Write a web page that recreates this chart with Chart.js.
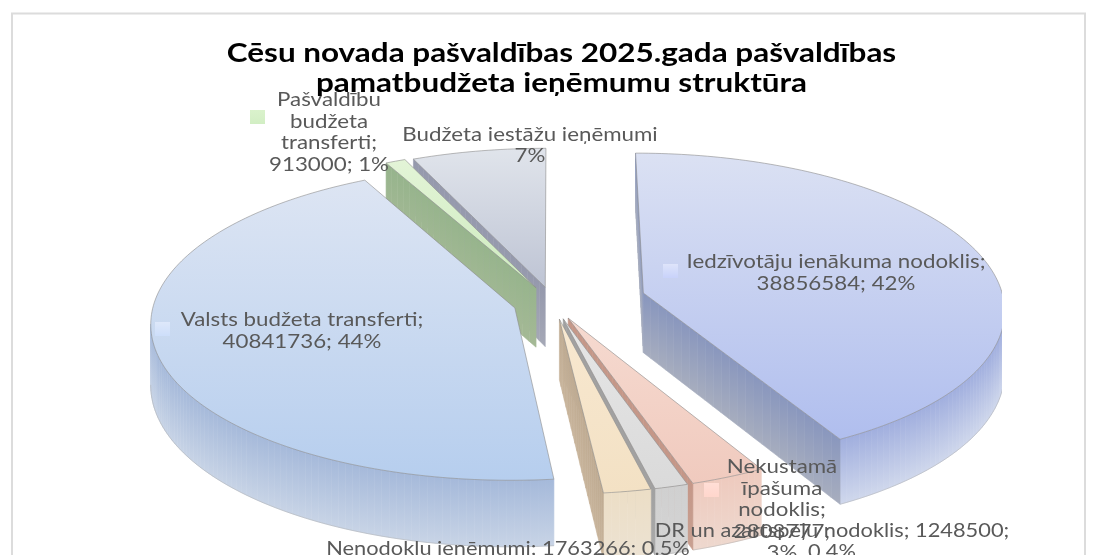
<!DOCTYPE html>
<html><head><meta charset="utf-8">
<style>html,body{margin:0;padding:0;background:#fff;overflow:hidden}canvas{display:block}</style>
<script src="https://cdn.jsdelivr.net/npm/chart.js@4"></script>
</head><body><canvas id="c" width="1097" height="555"></canvas>
<script>
const categories = ["Iedzīvotāju ienākuma nodoklis","Nekustamā īpašuma nodoklis","DR un azartspēļu nodoklis","Nenodoklu ieņēmumi","Valsts budžeta transferti","Pašvaldību budžeta transferti","Budžeta iestāžu ieņēmumi"];
const values = [38856584,2808777,1248500,1763266,40841736,913000,6100000];
const explode = [26,10.5,10.5,10.5,11,11,10.5];
const paintOrder = [6,5,4,0,1,2,3];
const faceTop = ["rgb(219,225,243)","rgb(246,218,208)","rgb(230,230,230)","rgb(248,232,208)","rgb(221,229,243)","rgb(227,244,215)","rgb(224,228,235)"];
const faceBottom = ["rgb(176,190,238)","rgb(240,202,190)","rgb(218,218,218)","rgb(243,225,196)","rgb(182,206,238)","rgb(205,235,190)","rgb(190,196,212)"];
const cutTop = ["rgb(136,150,190)","rgb(196,150,135)","rgb(160,160,160)","rgb(190,170,145)","rgb(150,175,205)","rgb(150,180,140)","rgb(148,152,172)"];
const cutBottom = ["rgb(168,174,190)","rgb(200,160,145)","rgb(170,170,170)","rgb(200,180,155)","rgb(170,190,215)","rgb(165,185,150)","rgb(165,168,182)"];
const rimTop = ["rgb(160,174,222)","rgb(238,202,190)","rgb(208,208,208)","rgb(236,222,198)","rgb(165,185,218)","rgb(190,215,175)","rgb(175,180,198)"];
const rimBottom = ["rgb(208,216,236)","rgb(238,216,206)","rgb(212,212,212)","rgb(236,226,210)","rgb(200,212,230)","rgb(205,225,190)","rgb(195,198,212)"];
const keyTop = ["rgb(222,228,250)","rgb(255,222,214)",null,null,"rgb(222,232,250)","rgb(218,242,204)",null];
const keyBottom = ["rgb(200,210,250)","rgb(255,214,204)",null,null,"rgb(205,222,250)","rgb(210,238,196)",null];
const titleLines = ["Cēsu novada pašvaldības 2025.gada pašvaldības","pamatbudžeta ieņēmumu struktūra"];
const labelLines = [
 ["Iedzīvotāju ienākuma nodoklis;","38856584; 42%"],
 ["Nekustamā","īpašuma","nodoklis;","2808777;","3%"],
 ["DR un azartspēļu nodoklis; 1248500;","0.4%"],
 ["Nenodoklu ieņēmumi; 1763266; 0.5%"],
 ["Valsts budžeta transferti;","40841736; 44%"],
 ["Pašvaldību","budžeta","transferti;","913000; 1%"],
 ["Budžeta iestāžu ieņēmumi","7%"]
];
const labelCenterX = [836,782,832,508,302,329,530];
const labelFirstY = [262,467,531,549,320,100,135];
const labelStep = [22,21.5,21,21,22,21.5,21];
const labelStretch = [1.115,1.115,1.09,1.09,1.115,1.115,1.115];
const keyX = [663,704,null,null,155,250,null];
const keyY = [264,483,null,null,322,110,null];

const VIEW = {cx:553, cy:303, rx:361, ry:155, p:0.095, h:60, clipL:147, clipR:1002, clipB:555};
const TITLE_STRETCH = 1.21, TITLE_CX = 561.5;
function project(u,v,z){
  const w = 1/(1-VIEW.p*v);
  return [VIEW.cx+u*VIEW.rx*w, VIEW.cy+v*VIEW.ry*w+z*VIEW.h*w];
}
function strip(ctx,a,b,c,d,col0,col1){
  const top=Math.min(a[1],b[1]), bot=Math.max(c[1],d[1]);
  const g=ctx.createLinearGradient(0,top,0,bot<=top?top+1:bot);
  g.addColorStop(0,col0); g.addColorStop(1,col1);
  ctx.fillStyle=g; ctx.strokeStyle=g; ctx.lineWidth=0.6;
  ctx.beginPath(); ctx.moveTo(...a); ctx.lineTo(...b); ctx.lineTo(...c); ctx.lineTo(...d); ctx.closePath();
  ctx.fill(); ctx.stroke();
}
function drawSlice(ctx,el,i){
  const a0=el.startAngle, a1=el.endAngle, mid=(a0+a1)/2, e=el.options.offset/100;
  const ox=Math.cos(mid)*e, oy=Math.sin(mid)*e;
  const n=Math.max(2,Math.ceil((a1-a0)/0.02));
  const rim=[];
  for(let k=0;k<=n;k++){const a=a0+(a1-a0)*k/n; rim.push([ox+Math.cos(a),oy+Math.sin(a),a]);}
  const P=(q,z)=>project(q[0],q[1],z);
  const apex=[ox,oy];
  const midPt=P([ox+Math.cos(mid)*0.5,oy+Math.sin(mid)*0.5],0);
  const wall=(q0,q1)=>{
    const p0=P(q0,0),p1=P(q1,0);
    const dx=p1[0]-p0[0],dy=p1[1]-p0[1];
    const sideFace=dx*(midPt[1]-p0[1])-dy*(midPt[0]-p0[0]);
    const sideDown=dx;
    if(Math.abs(dx)<1||sideFace*sideDown>0) return;
    const m=24;
    for(let k=0;k<m;k++){
      const s=k/m,t=(k+1)/m;
      const A=[q0[0]+(q1[0]-q0[0])*s,q0[1]+(q1[1]-q0[1])*s];
      const B=[q0[0]+(q1[0]-q0[0])*t,q0[1]+(q1[1]-q0[1])*t];
      strip(ctx,P(A,0),P(B,0),P(B,1),P(A,1),cutTop[i],cutBottom[i]);
    }
  };
  for(let k=0;k<n;k++){
    if(Math.sin((rim[k][2]+rim[k+1][2])/2)<VIEW.p) continue;
    strip(ctx,P(rim[k],0),P(rim[k+1],0),P(rim[k+1],1),P(rim[k],1),rimTop[i],rimBottom[i]);
  }
  ctx.beginPath();
  let started=false;
  for(let k=0;k<=n;k++){
    if(Math.sin(rim[k][2])<VIEW.p){started=false;continue;}
    const p=P(rim[k],1);
    if(started) ctx.lineTo(...p); else {ctx.moveTo(...p);started=true;}
  }
  ctx.strokeStyle="rgba(170,170,170,0.6)"; ctx.lineWidth=0.8; ctx.stroke();
  wall(apex,rim[0]);
  wall(apex,rim[n]);
  ctx.beginPath();
  let pts=[P(apex,0),...rim.map(q=>P(q,0))];
  pts.forEach((p,k)=>k?ctx.lineTo(...p):ctx.moveTo(...p));
  ctx.closePath();
  const ys=pts.map(p=>p[1]);
  const g=ctx.createLinearGradient(0,Math.min(...ys),0,Math.max(...ys));
  g.addColorStop(0,faceTop[i]); g.addColorStop(1,faceBottom[i]);
  ctx.fillStyle=g; ctx.fill();
  ctx.strokeStyle="rgba(140,140,140,0.75)"; ctx.lineWidth=0.8; ctx.stroke();
}
const LABEL_FONT='20px Lato';
const pie3d={
  id:'pie3d',
  beforeDraw(chart){
    const ctx=chart.ctx;
    ctx.save();
    ctx.fillStyle='#fff'; ctx.fillRect(0,0,1097,555);
    ctx.strokeStyle='#dcdcdc'; ctx.lineWidth=2;
    ctx.strokeRect(12,13.5,1073,600);
    ctx.restore();
    // the title is drawn next by the library: widen it about its centre
    ctx.setTransform(TITLE_STRETCH,0,0,1,(1-TITLE_STRETCH)*TITLE_CX,0);
  },
  beforeDatasetDraw(chart,args){
    const ctx=chart.ctx, els=chart.getDatasetMeta(args.index).data;
    ctx.setTransform(1,0,0,1,0,0);
    ctx.save();
    ctx.beginPath(); ctx.rect(VIEW.clipL,0,VIEW.clipR-VIEW.clipL,VIEW.clipB); ctx.clip();
    paintOrder.forEach(i=>drawSlice(ctx,els[i],i));
    ctx.restore();
    return false;
  },
  afterDatasetsDraw(chart){
    const ctx=chart.ctx;
    ctx.save();
    ctx.font=LABEL_FONT; ctx.textAlign='center'; ctx.textBaseline='middle';
    categories.forEach((c,i)=>{
      if(keyX[i]!==null){
        const g=ctx.createLinearGradient(0,keyY[i],0,keyY[i]+14);
        g.addColorStop(0,keyTop[i]); g.addColorStop(1,keyBottom[i]);
        ctx.fillStyle=g; ctx.fillRect(keyX[i],keyY[i],15,14);
      }
      ctx.fillStyle='rgb(89,89,89)';
      labelLines[i].forEach((t,k)=>{
        ctx.save();
        ctx.translate(labelCenterX[i],labelFirstY[i]+k*labelStep[i]);
        ctx.scale(labelStretch[i],1);
        ctx.fillText(t,0,0);
        ctx.restore();
      });
    });
    ctx.restore();
  }
};
new Chart(document.getElementById('c'),{
  type:'pie',
  data:{labels:categories,datasets:[{data:values,offset:explode,backgroundColor:faceBottom,borderWidth:0}]},
  plugins:[pie3d],
  options:{
    responsive:false,animation:false,
    layout:{padding:{left:26,top:38}},
    plugins:{
      legend:{display:false},tooltip:{enabled:false},
      title:{display:true,text:titleLines,color:'#000',font:{family:'Lato',size:26,weight:'bold',lineHeight:1.17},padding:0}
    }
  }
});
</script></body></html>
